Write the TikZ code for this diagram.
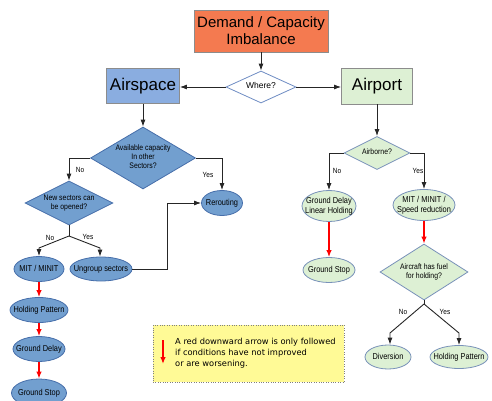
\documentclass[tikz,border=0pt]{standalone}
\usepackage{fontspec}
\setmainfont{Liberation Sans}
\newfontfamily\narrowfont{Liberation Sans}[FakeStretch=0.86]
\newfontfamily\keyfont{DejaVu Sans}
\usepackage{xcolor}
\usetikzlibrary{arrows.meta, shapes.geometric}
\definecolor{hot}{RGB}{244,122,80}
\definecolor{skyfill}{RGB}{138,173,224}
\definecolor{bluefill}{RGB}{114,159,207}
\definecolor{blueline}{RGB}{70,110,170}
\definecolor{greenfill}{RGB}{221,240,212}
\definecolor{greenline}{RGB}{120,145,185}
\definecolor{wherecol}{RGB}{110,140,195}
\definecolor{keyfill}{RGB}{255,250,150}
% text kept out of the shape size
\newcommand{\stack}[1]{\makebox[0pt]{\begin{tabular}{@{}c@{}}#1\end{tabular}}}
\tikzset{head/.style={rectangle, draw=black!45, line width=0.8pt, inner sep=0pt, font=\fontsize{17}{19}\selectfont}}
\tikzset{ask/.style={diamond, draw=blueline, fill=bluefill, line width=0.8pt, inner sep=0pt, font=\narrowfont\fontsize{8}{9}\selectfont}}
\tikzset{act/.style={ellipse, draw=blueline, fill=bluefill, line width=0.8pt, inner sep=0pt, font=\narrowfont\fontsize{8.6}{10}\selectfont}}
\tikzset{greenask/.style={ask, draw=greenline, fill=greenfill}}
\tikzset{greenact/.style={act, draw=greenline, fill=greenfill}}
\tikzset{conn/.style={draw=black!85, line width=0.9pt, -{Latex[length=7pt,width=5pt]}}}
\tikzset{worse/.style={draw=red, line width=1.3pt, -{Latex[length=7pt,width=5.5pt]}}}
\tikzset{lbl/.style={inner sep=0pt, font=\narrowfont\fontsize{7.5}{8}\selectfont}}

\begin{document}
\begin{tikzpicture}[x=1pt, y=-1pt]
  \useasboundingbox (0,0) rectangle (492,401);
  % Top
  \node[head, fill=hot, minimum width=134, minimum height=42, align=center,
    font=\fontsize{15}{17}\selectfont] (imbal) at (261,31) {Demand / Capacity\\Imbalance};
  \node[ask, fill=white, draw=wherecol, minimum width=70, minimum height=32,
    font=\fontsize{8.5}{9}\selectfont] (where) at (261,87) {\stack{Where?}};
  \node[head, fill=skyfill, minimum width=73, minimum height=35] (airspace) at (143,86) {Airspace};
  \node[head, fill=greenfill, minimum width=71, minimum height=36] (airport) at (377,86) {Airport};
  \draw[conn] (imbal) -- (where);
  \draw[conn] (where.west) -- (where.west -| airspace.east);
  \draw[conn] (where.east) -- (where.east -| airport.west);

  % Airspace side
  \node[ask, minimum width=105, minimum height=62] (avail) at (143,158) {\stack{Available capacity\\In other\\Sectors?}};
  \node[ask, minimum width=88, minimum height=44] (newsec) at (69,203) {\stack{New sectors can\\be opened?}};
  \node[act, minimum width=41, minimum height=25] (rerout) at (222,203) {\stack{Rerouting}};
  \node[act, minimum width=50, minimum height=25] (mit) at (39,269) {\stack{MIT / MINIT}};
  \node[act, minimum width=62, minimum height=24] (ungroup) at (101,269) {\stack{Ungroup sectors}};
  \node[act, minimum width=58, minimum height=25] (hold) at (39,310) {\stack{Holding Pattern}};
  \node[act, minimum width=52, minimum height=25] (gdelay) at (39,349) {\stack{Ground Delay}};
  \node[act, minimum width=55, minimum height=28] (gstop) at (39,393) {\stack{Ground Stop}};
  \coordinate (split1) at (69,236);
  \coordinate (knee1) at (39,248);
  \coordinate (knee2) at (100,248);
  \draw[conn] (airspace) -- (avail);
  \draw[conn] (avail.east) -| (rerout.north);
  \draw[conn] (avail.west) -| (newsec.north);
  \draw[draw=black!85, line width=0.9pt] (newsec.south) -- (split1);
  \draw[conn] (split1) -- (knee1) -- (knee1 |- mit.north);
  \draw[conn] (split1) -- (knee2) -- (knee2 |- ungroup.north);
  \draw[conn] (ungroup.east) -- ++(35,0) |- (rerout.west);
  \draw[worse] (mit) -- (hold);
  \draw[worse] (hold) -- (gdelay);
  \draw[worse] (gdelay) -- (gstop);
  \node[lbl] (yes1) at (208,175) {Yes};
  \node[lbl] (no1) at (80,170) {No};
  \node[lbl] (no2) at (50,238) {No};
  \node[lbl] (yes2) at (88,237) {Yes};

  % Airport side
  \node[greenask, minimum width=66, minimum height=33] (airborne) at (377,153) {\stack{Airborne?}};
  \node[greenact, minimum width=54, minimum height=31] (gdelay2) at (329,206) {\stack{Ground Delay\\Linear Holding}};
  \node[greenact, minimum width=62, minimum height=31] (speed) at (424,205) {\stack{MIT / MINIT /\\Speed reduction}};
  \node[greenact, minimum width=52, minimum height=25] (gstop2) at (329,270) {\stack{Ground Stop}};
  \node[greenask, minimum width=88, minimum height=56] (fuel) at (424,272) {\stack{Aircraft has fuel\\for holding?}};
  \node[greenact, minimum width=46, minimum height=24] (divers) at (388,357) {\stack{Diversion}};
  \node[greenact, minimum width=58, minimum height=23] (hold2) at (459,357) {\stack{Holding Pattern}};
  \coordinate (split3) at (424,304);
  \coordinate (knee5) at (390,333);
  \coordinate (knee6) at (459,333);
  \draw[conn] (airport) -- (airborne);
  \draw[conn] (airborne.west) -| (gdelay2.north);
  \draw[conn] (airborne.east) -| (speed.north);
  \draw[worse] (gdelay2) -- (gstop2);
  \draw[worse] (speed) -- (fuel);
  \draw[draw=black!85, line width=0.9pt] (fuel.south) -- (split3);
  \draw[conn] (split3) -- (knee5) -- (knee5 |- divers.north);
  \draw[conn] (split3) -- (knee6) -- (knee6 |- hold2.north);
  \node[lbl] (no3) at (337,171) {No};
  \node[lbl] (yes3) at (418,171) {Yes};
  \node[lbl] (no4) at (403,312) {No};
  \node[lbl] (yes4) at (445,312) {Yes};

  % Key
  \node[rectangle, draw=black!50, dotted, fill=keyfill, minimum width=191, minimum height=57] (key) at (248.5,353.5) {};
  \node[anchor=west, align=left, inner sep=0pt, font=\keyfont\fontsize{8.3}{11.2}\selectfont] (keytext) at (175,353)
    {A red downward arrow is only followed\\if conditions have not improved\\or are worsening.};
  \coordinate (keyfrom) at (163,340);
  \coordinate (keyto) at (163,364);
  \draw[worse] (keyfrom) -- (keyto);
\end{tikzpicture}
\end{document}
